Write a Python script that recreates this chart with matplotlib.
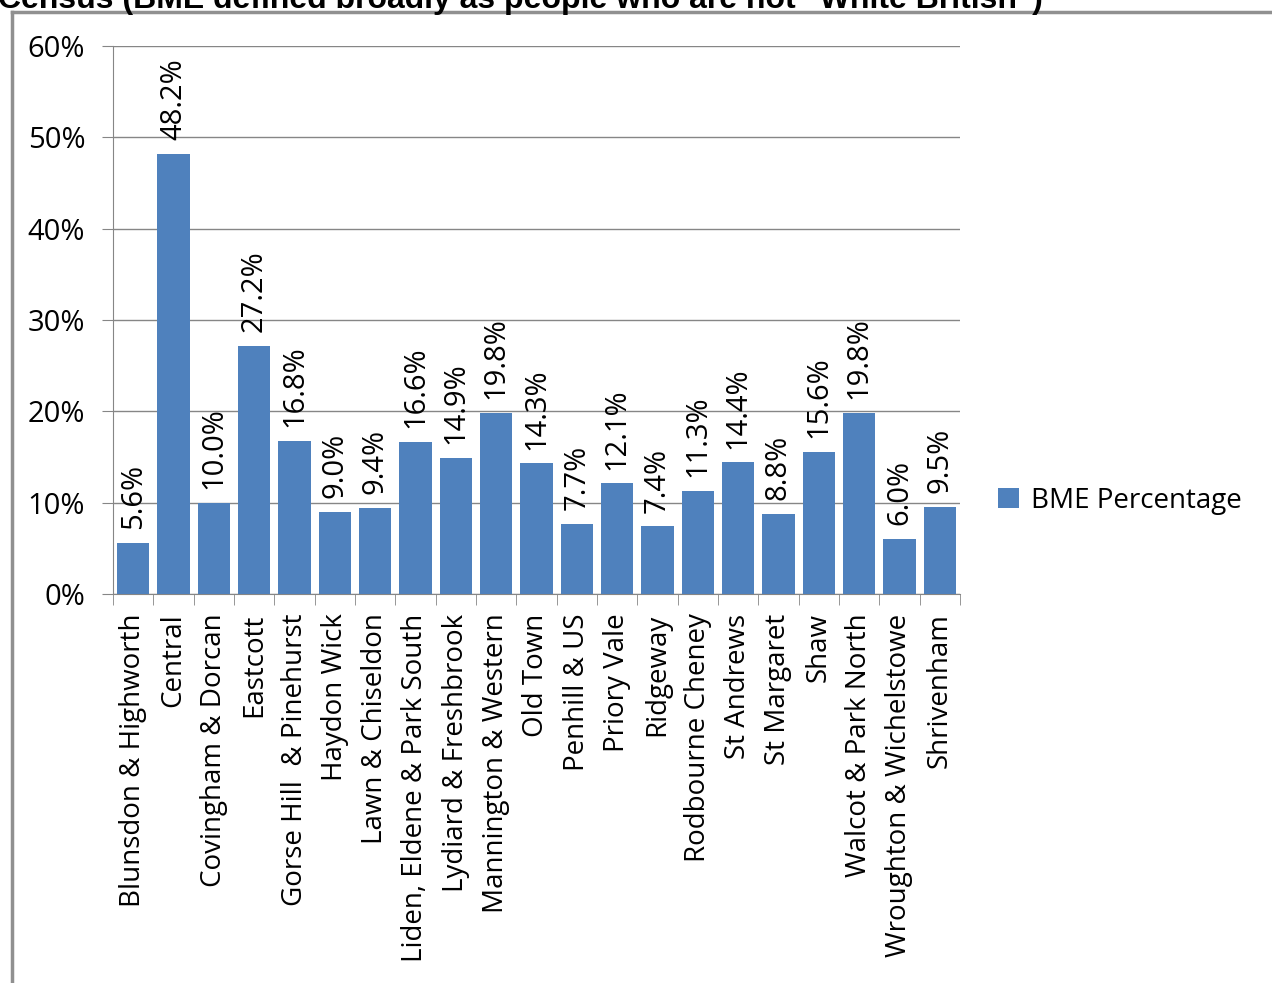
import matplotlib.pyplot as plt
import numpy as np
from matplotlib.lines import Line2D
from matplotlib.ticker import FuncFormatter

wards = ["Blunsdon & Highworth", "Central", "Covingham & Dorcan", "Eastcott",
         "Gorse Hill  & Pinehurst", "Haydon Wick", "Lawn & Chiseldon",
         "Liden, Eldene & Park South", "Lydiard & Freshbrook", "Mannington & Western",
         "Old Town", "Penhill & US", "Priory Vale", "Ridgeway", "Rodbourne Cheney",
         "St Andrews", "St Margaret", "Shaw", "Walcot & Park North",
         "Wroughton & Wichelstowe", "Shrivenham"]
bme_pct = [5.6, 48.2, 10.0, 27.2, 16.8, 9.0, 9.4, 16.6, 14.9, 19.8, 14.3,
           7.7, 12.1, 7.4, 11.3, 14.4, 8.8, 15.6, 19.8, 6.0, 9.5]
title = 'Census (BME defined broadly as people who are not "White British")'

plt.rcParams['font.family'] = ['Open Sans', 'DejaVu Sans']
fs = 20
grey = '#868686'
blue = '#4F81BD'

fig = plt.figure(figsize=(12.72, 9.83), dpi=100)
ax = fig.add_axes([113/1272, 1 - 594/983, (960 - 113)/1272, (594 - 46)/983])

x = np.arange(len(wards))
ax.bar(x, bme_pct, width=0.8, color=blue, label='BME Percentage', zorder=3)
for xi, v in zip(x, bme_pct):
    ax.annotate(f"{v:.1f}%", (xi, v), xytext=(0, 10), textcoords='offset points',
                rotation=90, ha='center', va='bottom', fontsize=21, zorder=4)

ax.set_xlim(-0.5, len(wards) - 0.5)
ax.set_ylim(0, 60)
ax.set_yticks(np.arange(0, 61, 10))
ax.yaxis.set_major_formatter(FuncFormatter(lambda v, p: f"{v:.0f}%"))
ax.grid(axis='y', color=grey, linewidth=1, zorder=0)

ax.set_xticks(x)
ax.set_xticklabels(wards, rotation=90, fontsize=fs)
ax.set_xticks(np.arange(-0.5, len(wards), 1), minor=True)
ax.tick_params(axis='x', which='major', length=0, pad=14)
ax.tick_params(axis='x', which='minor', length=8, color=grey, direction='out')
ax.tick_params(axis='y', length=8, color=grey, labelsize=21, pad=12)

for s in ['top', 'right']:
    ax.spines[s].set_visible(False)
for s in ['left', 'bottom']:
    ax.spines[s].set_color(grey)

ax.legend(loc='center left', bbox_to_anchor=(1.015, 0.17), frameon=False,
          fontsize=fs, handlelength=0.75, handleheight=0.75, handletextpad=0.45)

# screenshot frame and clipped title
fig.add_artist(Line2D([12/1272, 1.01], [1 - 12/983] * 2, color='#909090', lw=2.5,
                      transform=fig.transFigure))
fig.add_artist(Line2D([12/1272] * 2, [-0.01, 1 - 12/983], color='#909090', lw=2.5,
                      transform=fig.transFigure))
fig.text(-2/1272, 1 - 8/983, title, fontsize=23, fontweight='bold',
         family='Liberation Sans', va='baseline', ha='left')

fig.savefig('out.png', dpi=100)
